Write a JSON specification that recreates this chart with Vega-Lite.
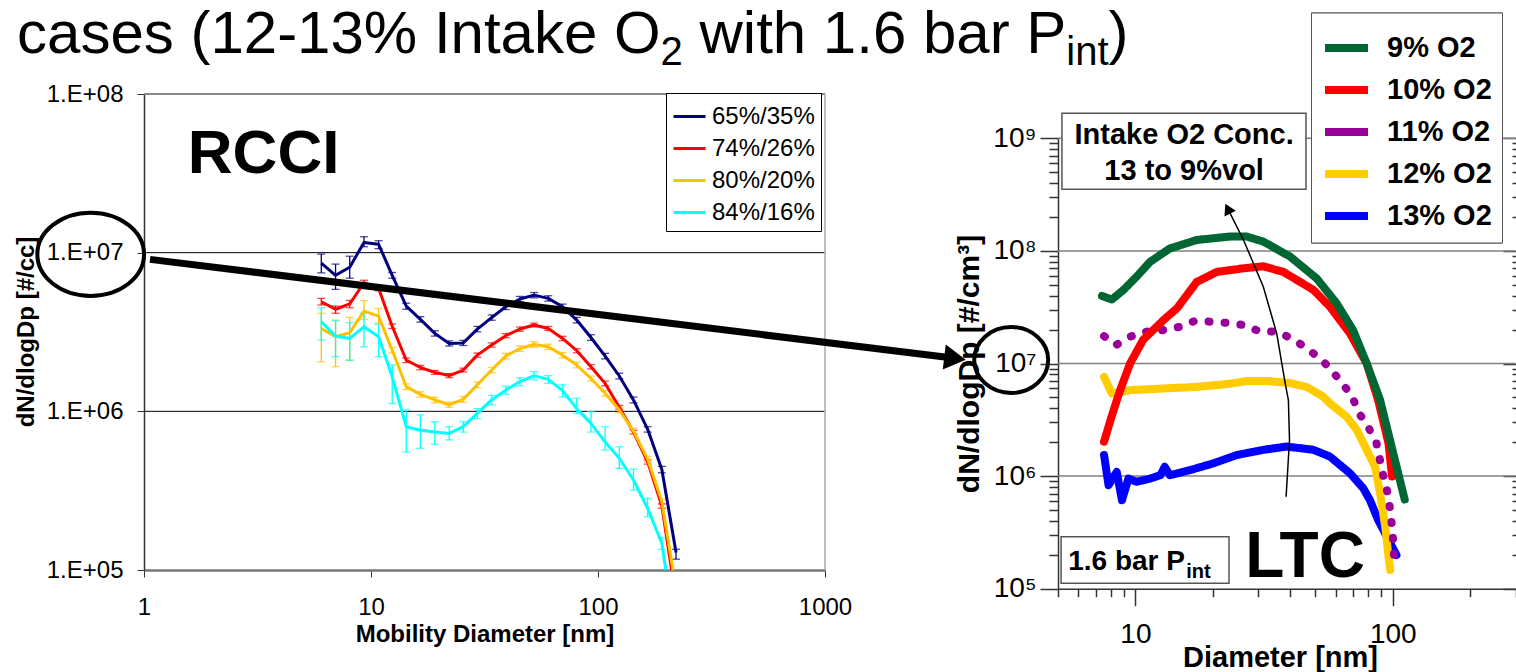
{
"$schema": "https://vega.github.io/schema/vega-lite/v6.json",
"width": 1516, "height": 672, "autosize": {"type": "none"}, "padding": 0, "background": "white",
"config": {
  "view": {"stroke": null},
  "font": "Liberation Sans",
  "axis": {"grid": false, "labelColor": "black", "titleColor": "black", "tickColor": "#333", "domainColor": "#333", "labelFont": "Liberation Sans", "titleFont": "Liberation Sans", "labelFlush": false, "labelOverlap": false},
  "legend": {"labelFont": "Liberation Sans", "labelColor": "black"}
},
"datasets": {
  "lcurves": [
    {"s":"65%/35%","d":6.04,"n":8600000,"lo":7460000,"hi":9800000},
    {"s":"65%/35%","d":6.98,"n":7200000,"lo":5870000,"hi":8470000},
    {"s":"65%/35%","d":8.06,"n":8100000,"lo":6900000,"hi":9500000},
    {"s":"65%/35%","d":9.31,"n":11600000,"lo":10900000,"hi":12600000},
    {"s":"65%/35%","d":10.8,"n":11300000,"lo":10600000,"hi":11900000},
    {"s":"65%/35%","d":12.4,"n":7200000,"lo":6900000,"hi":7500000},
    {"s":"65%/35%","d":14.3,"n":4600000,"lo":4400000,"hi":4800000},
    {"s":"65%/35%","d":16.5,"n":3800000,"lo":3650000,"hi":3950000},
    {"s":"65%/35%","d":19.1,"n":3100000,"lo":2980000,"hi":3220000},
    {"s":"65%/35%","d":22.1,"n":2680000,"lo":2580000,"hi":2780000},
    {"s":"65%/35%","d":25.5,"n":2700000,"lo":2600000,"hi":2800000},
    {"s":"65%/35%","d":29.4,"n":3300000,"lo":3170000,"hi":3430000},
    {"s":"65%/35%","d":34.0,"n":3900000,"lo":3750000,"hi":4050000},
    {"s":"65%/35%","d":39.2,"n":4560000,"lo":4380000,"hi":4740000},
    {"s":"65%/35%","d":45.3,"n":5100000,"lo":4900000,"hi":5300000},
    {"s":"65%/35%","d":52.3,"n":5400000,"lo":5190000,"hi":5610000},
    {"s":"65%/35%","d":60.4,"n":5150000,"lo":4950000,"hi":5350000},
    {"s":"65%/35%","d":69.8,"n":4560000,"lo":4380000,"hi":4740000},
    {"s":"65%/35%","d":80.6,"n":3760000,"lo":3610000,"hi":3910000},
    {"s":"65%/35%","d":93.1,"n":2920000,"lo":2800000,"hi":3040000},
    {"s":"65%/35%","d":107.5,"n":2230000,"lo":2140000,"hi":2320000},
    {"s":"65%/35%","d":124.1,"n":1670000,"lo":1600000,"hi":1740000},
    {"s":"65%/35%","d":143.3,"n":1180000,"lo":1130000,"hi":1230000},
    {"s":"65%/35%","d":165.5,"n":770000,"lo":740000,"hi":800000},
    {"s":"65%/35%","d":191.1,"n":430000,"lo":410000,"hi":450000},
    {"s":"65%/35%","d":220.7,"n":129000,"lo":117000,"hi":135000},
    {"s":"74%/26%","d":6.04,"n":4900000,"lo":4680000,"hi":5150000},
    {"s":"74%/26%","d":6.98,"n":4400000,"lo":4150000,"hi":4610000},
    {"s":"74%/26%","d":8.06,"n":4750000,"lo":4500000,"hi":5000000},
    {"s":"74%/26%","d":9.31,"n":6460000,"lo":6200000,"hi":6700000},
    {"s":"74%/26%","d":10.8,"n":5960000,"lo":5750000,"hi":6150000},
    {"s":"74%/26%","d":12.4,"n":3440000,"lo":3330000,"hi":3550000},
    {"s":"74%/26%","d":14.3,"n":2100000,"lo":2030000,"hi":2170000},
    {"s":"74%/26%","d":16.5,"n":1890000,"lo":1830000,"hi":1950000},
    {"s":"74%/26%","d":19.1,"n":1760000,"lo":1710000,"hi":1810000},
    {"s":"74%/26%","d":22.1,"n":1680000,"lo":1630000,"hi":1730000},
    {"s":"74%/26%","d":25.5,"n":1820000,"lo":1770000,"hi":1870000},
    {"s":"74%/26%","d":29.4,"n":2260000,"lo":2190000,"hi":2330000},
    {"s":"74%/26%","d":34.0,"n":2620000,"lo":2540000,"hi":2700000},
    {"s":"74%/26%","d":39.2,"n":3000000,"lo":2910000,"hi":3090000},
    {"s":"74%/26%","d":45.3,"n":3300000,"lo":3200000,"hi":3400000},
    {"s":"74%/26%","d":52.3,"n":3500000,"lo":3400000,"hi":3600000},
    {"s":"74%/26%","d":60.4,"n":3330000,"lo":3230000,"hi":3430000},
    {"s":"74%/26%","d":69.8,"n":2880000,"lo":2790000,"hi":2970000},
    {"s":"74%/26%","d":80.6,"n":2410000,"lo":2340000,"hi":2480000},
    {"s":"74%/26%","d":93.1,"n":1910000,"lo":1850000,"hi":1970000},
    {"s":"74%/26%","d":107.5,"n":1500000,"lo":1450000,"hi":1550000},
    {"s":"74%/26%","d":124.1,"n":1060000,"lo":1030000,"hi":1090000},
    {"s":"74%/26%","d":143.3,"n":740000,"lo":720000,"hi":760000},
    {"s":"74%/26%","d":165.5,"n":480000,"lo":465000,"hi":495000},
    {"s":"74%/26%","d":191.1,"n":253000,"lo":245000,"hi":261000},
    {"s":"74%/26%","d":211,"n":100000},
    {"s":"80%/20%","d":6.04,"n":3330000,"lo":2050000,"hi":4150000},
    {"s":"80%/20%","d":6.98,"n":2950000,"lo":1910000,"hi":3760000},
    {"s":"80%/20%","d":8.06,"n":3130000,"lo":2100000,"hi":3910000},
    {"s":"80%/20%","d":9.31,"n":4280000,"lo":3800000,"hi":4980000},
    {"s":"80%/20%","d":10.8,"n":3980000,"lo":3590000,"hi":4460000},
    {"s":"80%/20%","d":12.4,"n":2430000,"lo":2330000,"hi":2530000},
    {"s":"80%/20%","d":14.3,"n":1430000,"lo":1370000,"hi":1490000},
    {"s":"80%/20%","d":16.5,"n":1280000,"lo":1230000,"hi":1330000},
    {"s":"80%/20%","d":19.1,"n":1180000,"lo":1130000,"hi":1230000},
    {"s":"80%/20%","d":22.1,"n":1100000,"lo":1060000,"hi":1140000},
    {"s":"80%/20%","d":25.5,"n":1190000,"lo":1140000,"hi":1240000},
    {"s":"80%/20%","d":29.4,"n":1470000,"lo":1410000,"hi":1530000},
    {"s":"80%/20%","d":34.0,"n":1820000,"lo":1750000,"hi":1890000},
    {"s":"80%/20%","d":39.2,"n":2230000,"lo":2140000,"hi":2320000},
    {"s":"80%/20%","d":45.3,"n":2490000,"lo":2390000,"hi":2590000},
    {"s":"80%/20%","d":52.3,"n":2640000,"lo":2530000,"hi":2750000},
    {"s":"80%/20%","d":60.4,"n":2550000,"lo":2450000,"hi":2650000},
    {"s":"80%/20%","d":69.8,"n":2260000,"lo":2170000,"hi":2350000},
    {"s":"80%/20%","d":80.6,"n":1960000,"lo":1880000,"hi":2040000},
    {"s":"80%/20%","d":93.1,"n":1610000,"lo":1550000,"hi":1670000},
    {"s":"80%/20%","d":107.5,"n":1300000,"lo":1250000,"hi":1350000},
    {"s":"80%/20%","d":124.1,"n":1020000,"lo":980000,"hi":1060000},
    {"s":"80%/20%","d":143.3,"n":750000,"lo":720000,"hi":780000},
    {"s":"80%/20%","d":165.5,"n":500000,"lo":480000,"hi":520000},
    {"s":"80%/20%","d":191.1,"n":270000,"lo":260000,"hi":280000},
    {"s":"80%/20%","d":214,"n":100000},
    {"s":"84%/16%","d":6.04,"n":3670000,"lo":2810000,"hi":4500000},
    {"s":"84%/16%","d":6.98,"n":2980000,"lo":2210000,"hi":3720000},
    {"s":"84%/16%","d":8.06,"n":2880000,"lo":2100000,"hi":3620000},
    {"s":"84%/16%","d":9.31,"n":3410000,"lo":2550000,"hi":4150000},
    {"s":"84%/16%","d":10.8,"n":2950000,"lo":2210000,"hi":3550000},
    {"s":"84%/16%","d":12.4,"n":1650000,"lo":1120000,"hi":1960000},
    {"s":"84%/16%","d":14.3,"n":800000,"lo":555000,"hi":1020000},
    {"s":"84%/16%","d":16.5,"n":760000,"lo":585000,"hi":950000},
    {"s":"84%/16%","d":19.1,"n":740000,"lo":620000,"hi":860000},
    {"s":"84%/16%","d":22.1,"n":726000,"lo":660000,"hi":800000},
    {"s":"84%/16%","d":25.5,"n":800000,"lo":740000,"hi":860000},
    {"s":"84%/16%","d":29.4,"n":970000,"lo":900000,"hi":1040000},
    {"s":"84%/16%","d":34.0,"n":1180000,"lo":1100000,"hi":1260000},
    {"s":"84%/16%","d":39.2,"n":1360000,"lo":1280000,"hi":1440000},
    {"s":"84%/16%","d":45.3,"n":1540000,"lo":1450000,"hi":1630000},
    {"s":"84%/16%","d":52.3,"n":1680000,"lo":1580000,"hi":1780000},
    {"s":"84%/16%","d":60.4,"n":1590000,"lo":1500000,"hi":1680000},
    {"s":"84%/16%","d":69.8,"n":1350000,"lo":1230000,"hi":1470000},
    {"s":"84%/16%","d":80.6,"n":1040000,"lo":970000,"hi":1210000},
    {"s":"84%/16%","d":93.1,"n":840000,"lo":740000,"hi":995000},
    {"s":"84%/16%","d":107.5,"n":640000,"lo":570000,"hi":800000},
    {"s":"84%/16%","d":124.1,"n":506000,"lo":437000,"hi":598000},
    {"s":"84%/16%","d":143.3,"n":369000,"lo":319000,"hi":432000},
    {"s":"84%/16%","d":165.5,"n":245000,"lo":217000,"hi":283000},
    {"s":"84%/16%","d":191.1,"n":147000,"lo":135000,"hi":160000},
    {"s":"84%/16%","d":199,"n":100000}
  ],
  "rcurves": [
    {"o2":"13% O2","d":7.55,"n":1540000},{"o2":"13% O2","d":7.86,"n":830000},{"o2":"13% O2","d":8.46,"n":1090000},{"o2":"13% O2","d":8.86,"n":610000},{"o2":"13% O2","d":9.39,"n":950000},{"o2":"13% O2","d":10.1,"n":890000},{"o2":"13% O2","d":11.4,"n":950000},{"o2":"13% O2","d":12.5,"n":1020000},{"o2":"13% O2","d":13.0,"n":1210000},{"o2":"13% O2","d":13.6,"n":1020000},{"o2":"13% O2","d":16.3,"n":1130000},{"o2":"13% O2","d":20.1,"n":1300000},{"o2":"13% O2","d":24.8,"n":1540000},{"o2":"13% O2","d":31.4,"n":1710000},{"o2":"13% O2","d":38.7,"n":1830000},{"o2":"13% O2","d":49.2,"n":1710000},{"o2":"13% O2","d":57.0,"n":1490000},{"o2":"13% O2","d":68.2,"n":1060000},{"o2":"13% O2","d":76.8,"n":780000},{"o2":"13% O2","d":81.6,"n":610000},{"o2":"13% O2","d":87.8,"n":407000},{"o2":"13% O2","d":103.4,"n":199000},
    {"o2":"12% O2","d":7.55,"n":7600000},{"o2":"12% O2","d":8.1,"n":5400000},{"o2":"12% O2","d":9.53,"n":5800000},{"o2":"12% O2","d":12.85,"n":6000000},{"o2":"12% O2","d":17.3,"n":6200000},{"o2":"12% O2","d":23.3,"n":6600000},{"o2":"12% O2","d":27.1,"n":7000000},{"o2":"12% O2","d":32.4,"n":7000000},{"o2":"12% O2","d":39.9,"n":6700000},{"o2":"12% O2","d":46.3,"n":6200000},{"o2":"12% O2","d":53.7,"n":5070000},{"o2":"12% O2","d":57.0,"n":4430000},{"o2":"12% O2","d":66.1,"n":3370000},{"o2":"12% O2","d":72.5,"n":2570000},{"o2":"12% O2","d":79.2,"n":1710000},{"o2":"12% O2","d":85.4,"n":1210000},{"o2":"12% O2","d":89.3,"n":700000},{"o2":"12% O2","d":93.5,"n":356000},{"o2":"12% O2","d":96.3,"n":192000},{"o2":"12% O2","d":97.8,"n":147000},
    {"o2":"11% O2","d":7.55,"n":17500000},{"o2":"11% O2","d":8.41,"n":14600000},{"o2":"11% O2","d":9.53,"n":17300000},{"o2":"11% O2","d":11.1,"n":19200000},{"o2":"11% O2","d":12.85,"n":19800000},{"o2":"11% O2","d":14.9,"n":21200000},{"o2":"11% O2","d":17.1,"n":24000000},{"o2":"11% O2","d":19.5,"n":23500000},{"o2":"11% O2","d":22.6,"n":23000000},{"o2":"11% O2","d":26.3,"n":22000000},{"o2":"11% O2","d":30.5,"n":19200000},{"o2":"11% O2","d":35.4,"n":19200000},{"o2":"11% O2","d":41.1,"n":16400000},{"o2":"11% O2","d":46.3,"n":13600000},{"o2":"11% O2","d":52.2,"n":11100000},{"o2":"11% O2","d":57.9,"n":8750000},{"o2":"11% O2","d":63.4,"n":6670000},{"o2":"11% O2","d":69.3,"n":5250000},{"o2":"11% O2","d":73.3,"n":3730000},{"o2":"11% O2","d":80.2,"n":2750000},{"o2":"11% O2","d":86.5,"n":1950000},{"o2":"11% O2","d":91.7,"n":1020000},{"o2":"11% O2","d":96.3,"n":656000},{"o2":"11% O2","d":99.4,"n":356000},{"o2":"11% O2","d":100.5,"n":253000},{"o2":"11% O2","d":101.5,"n":174000},
    {"o2":"10% O2","d":7.55,"n":2020000},{"o2":"10% O2","d":8.0,"n":3150000},{"o2":"10% O2","d":8.46,"n":4700000},{"o2":"10% O2","d":8.72,"n":5800000},{"o2":"10% O2","d":9.53,"n":10000000},{"o2":"10% O2","d":10.7,"n":16200000},{"o2":"10% O2","d":12.85,"n":24300000},{"o2":"10% O2","d":14.5,"n":30900000},{"o2":"10% O2","d":17.3,"n":53000000},{"o2":"10% O2","d":20.7,"n":65000000},{"o2":"10% O2","d":26.3,"n":70000000},{"o2":"10% O2","d":31.4,"n":73000000},{"o2":"10% O2","d":37.6,"n":65000000},{"o2":"10% O2","d":49.2,"n":45000000},{"o2":"10% O2","d":57.0,"n":31900000},{"o2":"10% O2","d":68.2,"n":18500000},{"o2":"10% O2","d":79.2,"n":10000000},{"o2":"10% O2","d":87.8,"n":4700000},{"o2":"10% O2","d":96.3,"n":1950000},{"o2":"10% O2","d":99.4,"n":990000},
    {"o2":"9% O2","d":7.41,"n":39800000},{"o2":"9% O2","d":8.1,"n":37000000},{"o2":"9% O2","d":8.98,"n":45000000},{"o2":"9% O2","d":10.1,"n":59000000},{"o2":"9% O2","d":11.4,"n":80000000},{"o2":"9% O2","d":13.6,"n":105000000},{"o2":"9% O2","d":17.3,"n":125000000},{"o2":"9% O2","d":23.3,"n":134000000},{"o2":"9% O2","d":27.1,"n":134000000},{"o2":"9% O2","d":31.4,"n":121000000},{"o2":"9% O2","d":39.9,"n":89000000},{"o2":"9% O2","d":50.6,"n":57000000},{"o2":"9% O2","d":60.5,"n":34300000},{"o2":"9% O2","d":70.1,"n":19800000},{"o2":"9% O2","d":79.2,"n":10000000},{"o2":"9% O2","d":89.3,"n":4740000},{"o2":"9% O2","d":100.5,"n":1590000},{"o2":"9% O2","d":111.3,"n":620000}
  ],
  "arrowcurve": [
    {"i":1,"d":38.5,"n":656000},{"i":2,"d":39.7,"n":2090000},{"i":3,"d":39.3,"n":4740000},{"i":4,"d":38.2,"n":6670000},{"i":5,"d":35.4,"n":18500000},{"i":6,"d":31.4,"n":48100000},{"i":7,"d":26.3,"n":125000000},{"i":8,"d":22.84,"n":237000000}
  ]
},
"layer": [
  {"layer": [
    {"data": {"values": [{"n":1000000},{"n":10000000}]},
     "mark": {"type":"rule","color":"black","strokeWidth":1},
     "encoding": {
       "x": {"datum":1,"type":"quantitative","scale":{"type":"log","domain":[1,1000],"range":[144,825],"nice":false},"axis":null},
       "x2": {"datum":1000},
       "y": {"field":"n","type":"quantitative","scale":{"type":"log","domain":[100000,100000000],"range":[570,94],"nice":false},"axis":null}}},
    {"data": {"values": [{"n":100000000}]},
     "mark": {"type":"rule","color":"#888","strokeWidth":2},
     "encoding": {"x":{"datum":1,"type":"quantitative","axis":null},"x2":{"datum":1000},"y":{"field":"n","type":"quantitative","axis":null}}},
    {"data": {"values": [{"d":1000}]},
     "mark": {"type":"rule","color":"#aaa","strokeWidth":1.5},
     "encoding": {"x":{"field":"d","type":"quantitative","axis":null},"y":{"datum":100000,"type":"quantitative","axis":null},"y2":{"datum":100000000}}},
    {"data": {"name":"lcurves"}, "transform":[{"filter":"isValid(datum.lo)"}],
     "mark": {"type":"rule","strokeWidth":1.3},
     "encoding": {"x":{"field":"d","type":"quantitative","axis":null},"y":{"field":"lo","type":"quantitative","axis":null},"y2":{"field":"hi"},
       "color":{"field":"s","type":"nominal","scale":{"domain":["65%/35%","74%/26%","80%/20%","84%/16%"],"range":["#000080","#ff0000","#ffc000","#00ffff"]},"legend":null}}},
    {"data": {"name":"lcurves"}, "transform":[{"filter":"isValid(datum.lo)"}],
     "mark": {"type":"tick","orient":"horizontal","size":8,"thickness":1.3},
     "encoding": {"x":{"field":"d","type":"quantitative","axis":null},"y":{"field":"lo","type":"quantitative","axis":null},"color":{"field":"s","type":"nominal","legend":null}}},
    {"data": {"name":"lcurves"}, "transform":[{"filter":"isValid(datum.hi)"}],
     "mark": {"type":"tick","orient":"horizontal","size":8,"thickness":1.3},
     "encoding": {"x":{"field":"d","type":"quantitative","axis":null},"y":{"field":"hi","type":"quantitative","axis":null},"color":{"field":"s","type":"nominal","legend":null}}},
    {"data": {"name":"lcurves"},
     "mark": {"type":"line","strokeWidth":3,"strokeJoin":"round"},
     "encoding": {
       "x": {"field":"d","type":"quantitative","axis":{"orient":"bottom","offset":-102,"values":[1,10,100,1000],"format":"d","tickSize":7,"tickWidth":1,"labelFontSize":24,"labelPadding":18,"domainColor":"#777","domainWidth":2.5,"title":"Mobility Diameter [nm]","titleFontSize":24,"titleFontWeight":"bold","titleX":484.5,"titleY":71.7,"titleBaseline":"alphabetic","titleAlign":"center"}},
       "y": {"field":"n","type":"quantitative","axis":{"orient":"left","offset":-144,"values":[100000,1000000,10000000,100000000],"tickSize":7,"labelExpr":"'1.E+0' + round(log(datum.value)/LN10)","labelFontSize":24,"labelPadding":14,"domainWidth":1.5,"title":"dN/dlogDp [#/cc]","titleFontSize":24,"titleFontWeight":"bold","titleAngle":-90,"titleX":-110.5,"titleY":331.5,"titleBaseline":"alphabetic","titleAlign":"center"}},
       "color": {"field":"s","type":"nominal","legend":{"orient":"none","legendX":666,"legendY":93,"title":null,"symbolType":"stroke","symbolSize":1024,"symbolStrokeWidth":3,"labelFontSize":24,"fillColor":"white","strokeColor":"black","padding":6,"rowPadding":2,"labelOffset":5}}}},
    {"data": {"values": [{"t":"RCCI","d":1.56,"n":31800000}]},
     "mark": {"type":"text","fontSize":62,"fontWeight":"bold","align":"left","baseline":"alphabetic","color":"black"},
     "encoding": {"x":{"field":"d","type":"quantitative","axis":null},"y":{"field":"n","type":"quantitative","axis":null},"text":{"field":"t"}}},
    {"data": {"values": [{"t":"cases (12-13% Intake O","d":0.2758,"n":181000000},{"t":"with 1.6 bar P","d":280.0,"n":181000000},{"t":")","d":17740,"n":181000000}]},
     "mark": {"type":"text","fontSize":60,"align":"left","baseline":"alphabetic","color":"black"},
     "encoding": {"x":{"field":"d","type":"quantitative","axis":null},"y":{"field":"n","type":"quantitative","axis":null},"text":{"field":"t"}}},
    {"data": {"values": [{"t":"2","d":188.7,"n":152000000},{"t":"int","d":11560,"n":152000000}]},
     "mark": {"type":"text","fontSize":40,"align":"left","baseline":"alphabetic","color":"black"},
     "encoding": {"x":{"field":"d","type":"quantitative","axis":null},"y":{"field":"n","type":"quantitative","axis":null},"text":{"field":"t"}}},
    {"data": {"values": [{"d":0.5823,"n":9757000}]},
     "mark": {"type":"point","shape":"M-1,0A1,0.78,0,1,1,1,0A1,0.78,0,1,1,-1,0Z","size":11385,"filled":false,"stroke":"black","strokeWidth":4,"opacity":1},
     "encoding": {"x":{"field":"d","type":"quantitative","axis":null},"y":{"field":"n","type":"quantitative","axis":null}}},
    {"data": {"values": [{"i":1,"d":1.0627,"n":9075000},{"i":2,"d":3739,"n":2158000}]},
     "mark": {"type":"line","color":"black","strokeWidth":7},
     "encoding": {"x":{"field":"d","type":"quantitative","axis":null},"y":{"field":"n","type":"quantitative","axis":null},"order":{"field":"i"}}},
    {"data": {"values": [{"d":3739,"n":2158000}]},
     "mark": {"type":"point","shape":"triangle-right","angle":7,"size":625,"filled":true,"color":"black","opacity":1},
     "encoding": {"x":{"field":"d","type":"quantitative","axis":null},"y":{"field":"n","type":"quantitative","axis":null}}}
  ],
  "resolve": {"axis": {"x":"independent","y":"independent"}, "legend": {"color":"independent"}}},
  {"layer": [
    {"data": {"values": [{"n":1000000},{"n":10000000},{"n":100000000},{"n":1000000000}]},
     "mark": {"type":"rule","color":"#808080","strokeWidth":1.5},
     "encoding": {
       "x": {"datum":5,"type":"quantitative","scale":{"type":"log","domain":[5,300],"range":[1058,1515.5],"nice":false},"axis":null},
       "x2": {"datum":300},
       "y": {"field":"n","type":"quantitative","scale":{"type":"log","domain":[100000,1000000000],"range":[588.7,138.3],"nice":false},"axis":null}}},
    {"data": {"name":"rcurves"},
     "mark": {"type":"line","strokeWidth":8,"strokeJoin":"round","strokeCap":"round"},
     "encoding": {
       "x": {"field":"d","type":"quantitative","axis":{"orient":"bottom","offset":-83.3,"values":[10,100],"format":"d","tickSize":17,"tickWidth":1.5,"labelFontSize":28,"labelPadding":15,"domainWidth":1.5,"title":"Diameter [nm]","titleFontSize":29,"titleFontWeight":"bold","titleX":1280,"titleY":78,"titleBaseline":"alphabetic","titleAlign":"center"}},
       "y": {"field":"n","type":"quantitative","axis":{"orient":"left","offset":-1058,"values":[100000,1000000,10000000,100000000,1000000000],"tickSize":18,"tickWidth":1.5,"labelExpr":"'10' + ['⁰','¹','²','³','⁴','⁵','⁶','⁷','⁸','⁹'][round(log(datum.value)/LN10)]","labelFontSize":28,"labelPadding":4,"domainWidth":1.5,"title":"dN/dlogDp [#/cm³]","titleFontSize":30,"titleFontWeight":"bold","titleAngle":-90,"titleX":-80,"titleY":363.5,"titleBaseline":"alphabetic","titleAlign":"center"}},
       "color": {"field":"o2","type":"nominal","scale":{"domain":["9% O2","10% O2","11% O2","12% O2","13% O2"],"range":["#006633","#ff0000","#990099","#ffcc00","#0000ff"]},
         "legend":{"orient":"none","legendX":1311,"legendY":12.5,"title":null,"symbolType":"stroke","symbolSize":1849,"symbolStrokeWidth":8,"labelFontSize":29,"labelFontWeight":"bold","fillColor":"white","strokeColor":"#555","padding":10,"rowPadding":0,"labelOffset":15}},
       "strokeDash": {"field":"o2","type":"nominal","scale":{"domain":["9% O2","10% O2","11% O2","12% O2","13% O2"],"range":[[1,0],[1,0],[1,15],[1,0],[1,0]]},
         "legend":{"orient":"none","legendX":1311,"legendY":12.5,"title":null,"symbolType":"stroke","symbolSize":1849,"symbolStrokeWidth":8,"labelFontSize":29,"labelFontWeight":"bold","fillColor":"white","strokeColor":"#555","padding":10,"rowPadding":0,"labelOffset":15}}}},
    {"data": {"name":"arrowcurve"},
     "mark": {"type":"line","color":"black","strokeWidth":1.5},
     "encoding": {
       "x": {"field":"d","type":"quantitative","axis":{"orient":"bottom","offset":-83.3,"values":[5,6,7,8,9,20,30,40,50,60,70,80,90,200,300],"tickSize":8,"tickWidth":1.5,"labels":false,"domain":false,"title":null}},
       "y": {"field":"n","type":"quantitative","axis":{"orient":"left","offset":-1058,"values":[200000,300000,400000,500000,600000,700000,800000,900000,2000000,3000000,4000000,5000000,6000000,7000000,8000000,9000000,20000000,30000000,40000000,50000000,60000000,70000000,80000000,90000000,200000000,300000000,400000000,500000000,600000000,700000000,800000000,900000000],"tickSize":9,"tickWidth":1.5,"labels":false,"domain":false,"title":null}},
       "order": {"field":"i"}}},
    {"data": {"values": [{"d":22.84,"n":237000000}]},
     "mark": {"type":"point","shape":"triangle-up","angle":-26,"size":160,"filled":true,"color":"black","opacity":1},
     "encoding": {"x":{"field":"d","type":"quantitative","axis":null},"y":{"field":"n","type":"quantitative","axis":null}}},
    {"data": {"values": [{"d1":5.18,"d2":46.0,"n1":352000000,"n2":1670000000},{"d1":5.14,"d2":23.1,"n1":112000,"n2":290000}]},
     "mark": {"type":"rect","fill":"white","stroke":"#555","strokeWidth":1.5},
     "encoding": {
       "x": {"field":"d1","type":"quantitative","axis":null},"x2":{"field":"d2"},
       "y": {"field":"n1","type":"quantitative","axis":{"orient":"right","offset":-13,"values":[100000,1000000,10000000,100000000,1000000000],"tickSize":13,"tickWidth":1.5,"labels":false,"domain":false,"title":null}},
       "y2": {"field":"n2"}}},
    {"data": {"values": [{"t":"Intake O2 Conc.","d":15.46,"n":1070000000},{"t":"13 to 9%vol","d":15.46,"n":515600000}]},
     "mark": {"type":"text","fontSize":29,"fontWeight":"bold","align":"center","baseline":"middle","color":"black"},
     "encoding": {"x":{"field":"d","type":"quantitative","axis":null},"y":{"field":"n","type":"quantitative","axis":null},"text":{"field":"t"}}},
    {"data": {"values": [{"t":"1.6 bar P","d":5.48,"n":147000}]},
     "mark": {"type":"text","fontSize":28,"fontWeight":"bold","align":"left","baseline":"alphabetic","color":"black"},
     "encoding": {"x":{"field":"d","type":"quantitative","axis":null},"y":{"field":"n","type":"quantitative","axis":null},"text":{"field":"t"}}},
    {"data": {"values": [{"t":"int","d":15.74,"n":124000}]},
     "mark": {"type":"text","fontSize":20,"fontWeight":"bold","align":"left","baseline":"alphabetic","color":"black"},
     "encoding": {"x":{"field":"d","type":"quantitative","axis":null},"y":{"field":"n","type":"quantitative","axis":null},"text":{"field":"t"}}},
    {"data": {"values": [{"t":"LTC","d":26.7,"n":128000}]},
     "mark": {"type":"text","fontSize":64,"fontWeight":"bold","align":"left","baseline":"alphabetic","color":"black"},
     "encoding": {"x":{"field":"d","type":"quantitative","axis":null},
       "y":{"field":"n","type":"quantitative","axis":{"orient":"right","offset":-4,"values":[200000,300000,400000,500000,600000,700000,800000,900000,2000000,3000000,4000000,5000000,6000000,7000000,8000000,9000000,20000000,30000000,40000000,50000000,60000000,70000000,80000000,90000000,200000000,300000000,400000000,500000000,600000000,700000000,800000000,900000000],"tickSize":4,"tickWidth":1.5,"labels":false,"domain":false,"title":null}},
       "text":{"field":"t"}}},
    {"data": {"values": [{"d":3.289,"n":10740000}]},
     "mark": {"type":"point","shape":"M-1,0A1,0.89,0,1,1,1,0A1,0.89,0,1,1,-1,0Z","size":5476,"filled":false,"stroke":"black","strokeWidth":4,"opacity":1},
     "encoding": {"x":{"field":"d","type":"quantitative","axis":null},"y":{"field":"n","type":"quantitative","axis":null}}}
  ],
  "resolve": {"axis": {"x":"independent","y":"independent"}}}
],
"resolve": {"scale": {"x":"independent","y":"independent","color":"independent"}}
}
